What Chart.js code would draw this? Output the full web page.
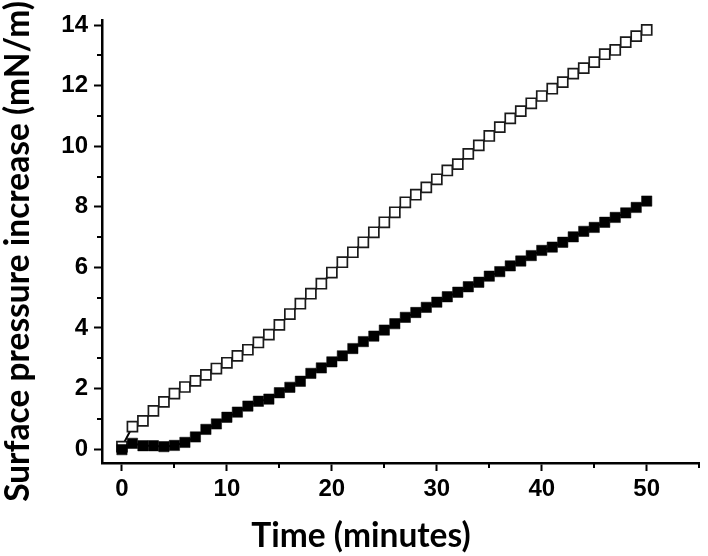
<!DOCTYPE html>
<html>
<head>
<meta charset="utf-8">
<script src="https://cdn.jsdelivr.net/npm/chart.js@4"></script>
<style>
  body { margin: 0; background: #fff; }
  canvas { display: block; }
</style>
</head>
<body>
<canvas id="pressure" width="708" height="556"></canvas>
<script>
// time in minutes
const minutes = [0, 1, 2, 3, 4, 5, 6, 7, 8, 9, 10, 11, 12, 13, 14, 15, 16, 17, 18, 19, 20,
  21, 22, 23, 24, 25, 26, 27, 28, 29, 30, 31, 32, 33, 34, 35, 36, 37, 38, 39, 40,
  41, 42, 43, 44, 45, 46, 47, 48, 49, 50];

// open squares
const openSeries = [0.08, 0.74, 0.93, 1.26, 1.56, 1.83, 2.05, 2.25, 2.45, 2.66, 2.85,
  3.08, 3.28, 3.52, 3.78, 4.10, 4.46, 4.80, 5.13, 5.46, 5.83,
  6.17, 6.50, 6.83, 7.16, 7.49, 7.82, 8.15, 8.40, 8.64, 8.91,
  9.20, 9.41, 9.75, 10.03, 10.34, 10.63, 10.92, 11.16, 11.42, 11.66,
  11.90, 12.12, 12.40, 12.58, 12.78, 13.04, 13.18, 13.44, 13.64, 13.84];

// filled squares
const filledSeries = [-0.02, 0.19, 0.11, 0.11, 0.08, 0.12, 0.22, 0.40, 0.65, 0.83, 1.05,
  1.22, 1.42, 1.58, 1.65, 1.86, 2.04, 2.24, 2.50, 2.68, 2.88,
  3.08, 3.32, 3.55, 3.73, 3.93, 4.14, 4.35, 4.51, 4.68, 4.85,
  5.03, 5.18, 5.36, 5.51, 5.71, 5.86, 6.05, 6.21, 6.39, 6.56,
  6.67, 6.83, 7.01, 7.19, 7.32, 7.49, 7.65, 7.80, 7.98, 8.19];

const xLabelEvery = 10;
const yLabelEvery = 2;

const toPoints = ys => minutes.map((t, i) => ({x: t, y: ys[i]}));

// short minor ticks (major ones come from chart.js itself)
const minorTicks = {
  id: 'minorTicks',
  afterDraw(chart) {
    const ctx = chart.ctx;
    const xs = chart.scales.x, ys = chart.scales.y;
    ctx.save();
    ctx.strokeStyle = '#000';
    ctx.lineWidth = 2;
    xs.ticks.forEach(t => {
      if (t.value % xLabelEvery === 0) return;
      const px = Math.round(xs.getPixelForValue(t.value));
      ctx.beginPath();
      ctx.moveTo(px, xs.top);
      ctx.lineTo(px, xs.top + 5);
      ctx.stroke();
    });
    ys.ticks.forEach(t => {
      if (t.value % yLabelEvery === 0) return;
      const py = Math.round(ys.getPixelForValue(t.value));
      ctx.beginPath();
      ctx.moveTo(ys.right, py);
      ctx.lineTo(ys.right - 5, py);
      ctx.stroke();
    });
    ctx.restore();
  }
};

const tickFont = {family: '"Liberation Sans", Arial, sans-serif', size: 24, weight: 'bold'};
const titleFont = {family: 'Lato, "Open Sans", sans-serif', size: 33.5, weight: 'bold', lineHeight: 1.2};

new Chart(document.getElementById('pressure'), {
  type: 'line',
  data: {
    datasets: [
      {
        label: 'filled',
        data: toPoints(filledSeries),
        borderColor: '#000',
        borderWidth: 2,
        pointStyle: 'rect',
        pointRadius: 7.3,
        pointBackgroundColor: '#000',
        pointBorderColor: '#000',
        pointBorderWidth: 0.5,
        tension: 0
      },
      {
        label: 'open',
        data: toPoints(openSeries),
        borderColor: '#000',
        borderWidth: 2,
        pointStyle: 'rect',
        pointRadius: 7.1,
        pointBackgroundColor: '#fff',
        pointBorderColor: '#1a1a1a',
        pointBorderWidth: 1.7,
        tension: 0
      }
    ]
  },
  options: {
    responsive: false,
    animation: false,
    // bottom padding keeps the rotated y title above the x title
    layout: {padding: {top: 0, right: 4, bottom: 53, left: 18}},
    plugins: {
      legend: {display: false},
      tooltip: {enabled: false},
      title: {
        display: true,
        position: 'left',
        text: 'Surface pressure increase (mN/m)',
        color: '#000',
        font: titleFont,
        padding: {top: -20, bottom: 0}
      },
      subtitle: {
        display: true,
        position: 'bottom',
        text: 'Time (minutes)',
        color: '#000',
        font: titleFont,
        padding: {top: 12.9, bottom: -53.1}
      }
    },
    scales: {
      x: {
        type: 'linear',
        min: -1.9,
        max: 55,
        afterFit: s => { s.height = 40; },
        border: {display: true, color: '#000', width: 2.5},
        grid: {
          drawOnChartArea: false,
          tickLength: 8,
          tickWidth: 2,
          tickColor: c => (c.tick && c.tick.value % xLabelEvery === 0) ? '#000' : 'rgba(0,0,0,0)'
        },
        ticks: {
          stepSize: 5,
          includeBounds: false,
          maxRotation: 0,
          autoSkip: false,
          color: '#000',
          font: tickFont,
          padding: 4,
          callback: v => v % xLabelEvery === 0 ? v : ''
        }
      },
      y: {
        min: -0.46,
        max: 14.17,
        afterFit: s => { s.width = 63.8; s.paddingTop = 20; },
        border: {display: true, color: '#000', width: 2.5},
        grid: {
          drawOnChartArea: false,
          tickLength: 8,
          tickWidth: 2,
          tickColor: c => (c.tick && c.tick.value % yLabelEvery === 0) ? '#000' : 'rgba(0,0,0,0)'
        },
        ticks: {
          stepSize: 1,
          includeBounds: false,
          autoSkip: false,
          color: '#000',
          font: tickFont,
          padding: 6,
          callback: v => v % yLabelEvery === 0 ? v : ''
        }
      }
    }
  },
  plugins: [minorTicks]
});
</script>
</body>
</html>
